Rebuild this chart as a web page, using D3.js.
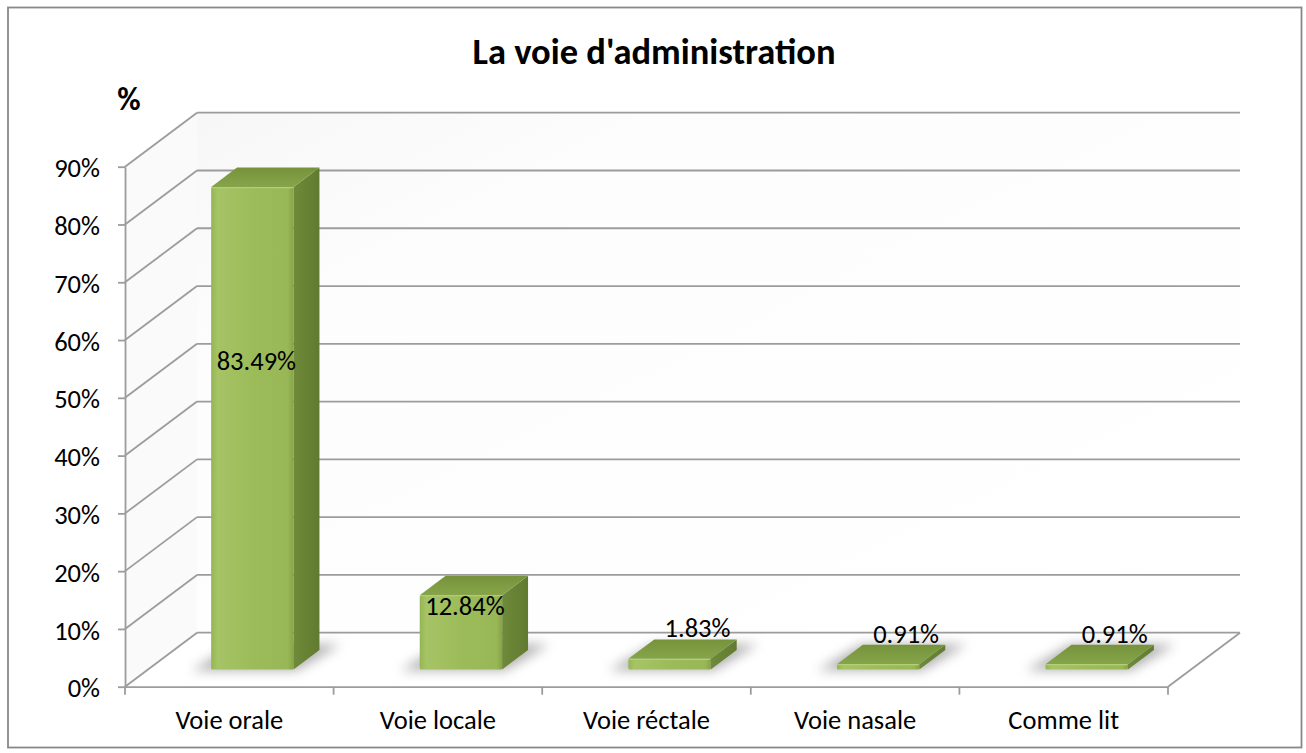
<!DOCTYPE html>
<html>
<head>
<meta charset="utf-8">
<script src="https://cdn.jsdelivr.net/npm/d3@7"></script>
<style>
  html, body { margin: 0; padding: 0; background: #fff; }
  svg { display: block; }
  text { font-family: Carlito, Calibri, Lato, "Open Sans", sans-serif; fill: #000; }
</style>
</head>
<body>
<svg id="chart" width="1306" height="753"></svg>
<script>
// ---- data ----
const chartTitle = "La voie d'administration";
const yAxisTitle = "%";
const categories = ["Voie orale", "Voie locale", "Voie réctale", "Voie nasale", "Comme lit"];
const values = [83.49, 12.84, 1.83, 0.91, 0.91];
const valueLabels = ["83.49%", "12.84%", "1.83%", "0.91%", "0.91%"];
const yTickValues = [0, 10, 20, 30, 40, 50, 60, 70, 80, 90];
const yTickLabels = ["0%", "10%", "20%", "30%", "40%", "50%", "60%", "70%", "80%", "90%"];

// ---- layout ----
const svg = d3.select("#chart");
const W = 1306, H = 753;
const plotLeft = 125, plotRight = 1168, plotBottom = 686.7, plotTop = 166.7;
const DX = 72, DY = -54;           // depth vector of the 3D box
const f0 = 0.32, f1 = 0.68;        // bar front/back depth fractions
const gridColor = "#9c9c9c";
const fontSize = "26.5px";

const x = d3.scaleBand().domain(categories).range([plotLeft, plotRight]).paddingInner(0).paddingOuter(0);
const y = d3.scaleLinear().domain([0, 90]).range([plotBottom, plotTop]);
const P = (xf, v, d) => [xf + DX * d, y(v) + DY * d];

const defs = svg.append("defs");
const fg = defs.append("linearGradient").attr("id", "frontGrad").attr("x1", "0").attr("x2", "1").attr("y1", "0").attr("y2", "0");
fg.append("stop").attr("offset", "0").attr("stop-color", "#95b553");
fg.append("stop").attr("offset", "0.08").attr("stop-color", "#a6c466");
fg.append("stop").attr("offset", "0.5").attr("stop-color", "#9cbb59");
fg.append("stop").attr("offset", "0.93").attr("stop-color", "#98b756");
fg.append("stop").attr("offset", "1").attr("stop-color", "#86a446");
const sg = defs.append("linearGradient").attr("id", "sideGrad").attr("x1", "0").attr("x2", "1").attr("y1", "0").attr("y2", "0");
sg.append("stop").attr("offset", "0").attr("stop-color", "#6f8a3a");
sg.append("stop").attr("offset", "1").attr("stop-color", "#617a30");
const tg = defs.append("linearGradient").attr("id", "topGrad").attr("x1", "0").attr("x2", "0").attr("y1", "1").attr("y2", "0");
tg.append("stop").attr("offset", "0").attr("stop-color", "#86a54a");
tg.append("stop").attr("offset", "1").attr("stop-color", "#76933b");
const blur = defs.append("filter").attr("id", "shadowBlur").attr("x", "-50%").attr("y", "-100%").attr("width", "200%").attr("height", "300%");
blur.append("feGaussianBlur").attr("stdDeviation", "6");
const wallG = defs.append("linearGradient").attr("id", "wallGrad").attr("x1", "0").attr("x2", "1").attr("y1", "0").attr("y2", "1");
wallG.append("stop").attr("offset", "0").attr("stop-color", "#f7f7f7");
wallG.append("stop").attr("offset", "0.25").attr("stop-color", "#fdfdfd");
wallG.append("stop").attr("offset", "1").attr("stop-color", "#ffffff");

// background + outer border
svg.append("rect").attr("x", 0).attr("y", 0).attr("width", W).attr("height", H).attr("fill", "#fff");
svg.append("rect").attr("x", 8).attr("y", 7.5).attr("width", 1293.5).attr("height", 740)
  .attr("fill", "#fff").attr("stroke", "#888").attr("stroke-width", 1.8);

// walls (subtle fill)
const poly = pts => pts.map(p => p.join(",")).join(" ");
svg.append("polygon")
  .attr("points", poly([P(plotLeft, 90, 1), P(plotRight, 90, 1), P(plotRight, 0, 1), P(plotLeft, 0, 1)]))
  .attr("fill", "url(#wallGrad)");
svg.append("polygon")
  .attr("points", poly([P(plotLeft, 90, 0), P(plotLeft, 90, 1), P(plotLeft, 0, 1), P(plotLeft, 0, 0)]))
  .attr("fill", "#fafafa");

// gridlines: back wall + left wall diagonals
const grid = svg.append("g").attr("stroke", gridColor).attr("stroke-width", 1.8).attr("fill", "none");
grid.selectAll("line.back").data(yTickValues).join("line").attr("class", "back")
  .attr("x1", d => P(plotLeft, d, 1)[0]).attr("y1", d => P(plotLeft, d, 1)[1])
  .attr("x2", d => P(plotRight, d, 1)[0]).attr("y2", d => P(plotRight, d, 1)[1]);
grid.selectAll("line.side").data(yTickValues).join("line").attr("class", "side")
  .attr("x1", d => P(plotLeft, d, 0)[0]).attr("y1", d => P(plotLeft, d, 0)[1])
  .attr("x2", d => P(plotLeft, d, 1)[0]).attr("y2", d => P(plotLeft, d, 1)[1]);
// floor right edge
grid.append("line")
  .attr("x1", P(plotRight, 0, 0)[0]).attr("y1", P(plotRight, 0, 0)[1])
  .attr("x2", P(plotRight, 0, 1)[0]).attr("y2", P(plotRight, 0, 1)[1]);

// y axis
const yAxis = d3.axisLeft(y).tickValues(yTickValues).tickFormat((d, i) => yTickLabels[i])
  .tickSizeInner(7).tickSizeOuter(0).tickPadding(18);
const gy = svg.append("g").attr("transform", `translate(${plotLeft},0)`).call(yAxis);
gy.select(".domain").attr("stroke", gridColor).attr("stroke-width", 1.8);
gy.selectAll(".tick line").attr("stroke", gridColor).attr("stroke-width", 1.8);
gy.selectAll(".tick text").style("font-size", fontSize).attr("dy", "0.38em").attr("fill", "#000");

// x axis (floor front edge + boundary ticks + labels)
const xAxis = d3.axisBottom(x).tickSize(0).tickPadding(0);
const gx = svg.append("g").attr("transform", `translate(0,${plotBottom})`).call(xAxis);
gx.select(".domain").attr("stroke", gridColor).attr("stroke-width", 1.8);
gx.selectAll(".tick text").style("font-size", fontSize).attr("y", 42).attr("dy", 0).attr("fill", "#000");
const bounds = categories.map(c => x(c)).concat([x.range()[1]]);
gx.selectAll("line.bt").data(bounds).join("line").attr("class", "bt")
  .attr("x1", d => d).attr("x2", d => d).attr("y1", 0).attr("y2", 8)
  .attr("stroke", gridColor).attr("stroke-width", 1.8);

// bars
const bw = x.bandwidth() * 0.395;
const bars = svg.append("g");
categories.forEach((c, i) => {
  const v = values[i];
  const cx = x(c) + x.bandwidth() / 2;
  const xl = cx - bw / 2, xr = cx + bw / 2;
  const g = bars.append("g");
  // shadow on the floor
  g.append("polygon")
    .attr("points", poly([P(xl - 18, 0, f0 - 0.02), P(xr + 4, 0, f0 - 0.02), P(xr + 14, 0, f1 + 0.1), P(xl - 8, 0, f1 + 0.1)]))
    .attr("fill", "#6e6e6e").attr("opacity", 0.55).attr("filter", "url(#shadowBlur)");
  // front face
  const [fx, fy] = P(xl, v, f0);
  const [, fb] = P(xl, 0, f0);
  g.append("rect").attr("x", fx).attr("y", fy).attr("width", bw).attr("height", fb - fy)
    .attr("fill", "url(#frontGrad)").attr("rx", 1.5);
  // side face
  g.append("polygon")
    .attr("points", poly([P(xr, 0, f0), P(xr, v, f0), P(xr, v, f1), P(xr, 0, f1)]))
    .attr("fill", "url(#sideGrad)");
  // top face
  g.append("polygon")
    .attr("points", poly([P(xl, v, f0), P(xr, v, f0), P(xr, v, f1), P(xl, v, f1)]))
    .attr("fill", "url(#topGrad)");
  // bevel highlight on top front edge
  g.append("line")
    .attr("x1", P(xl, v, f0)[0] + 1).attr("y1", P(xl, v, f0)[1] + 0.5)
    .attr("x2", P(xr, v, f0)[0] - 1).attr("y2", P(xr, v, f0)[1] + 0.5)
    .attr("stroke", "#b3cf78").attr("stroke-width", 1.2);

  // data label
  const faceH = fb - fy;
  const lbl = g.append("text").style("font-size", fontSize).attr("text-anchor", "middle").text(valueLabels[i]);
  if (faceH > 40) {
    const [, ly] = P(cx, v * 0.6, f1);
    lbl.attr("x", fx + bw / 2 + 4).attr("y", ly).attr("dy", "0.35em");
  } else {
    const [, by] = P(cx, v, f1);
    lbl.attr("x", cx + 51).attr("y", by - 2);
  }
});

// titles
svg.append("text").attr("x", 654).attr("y", 64).attr("text-anchor", "middle")
  .style("font-size", "36.5px").style("font-weight", "bold").text(chartTitle);
svg.append("text").attr("x", 129).attr("y", 110).attr("text-anchor", "middle")
  .style("font-size", "32px").style("font-weight", "bold").text(yAxisTitle);
</script>
</body>
</html>
